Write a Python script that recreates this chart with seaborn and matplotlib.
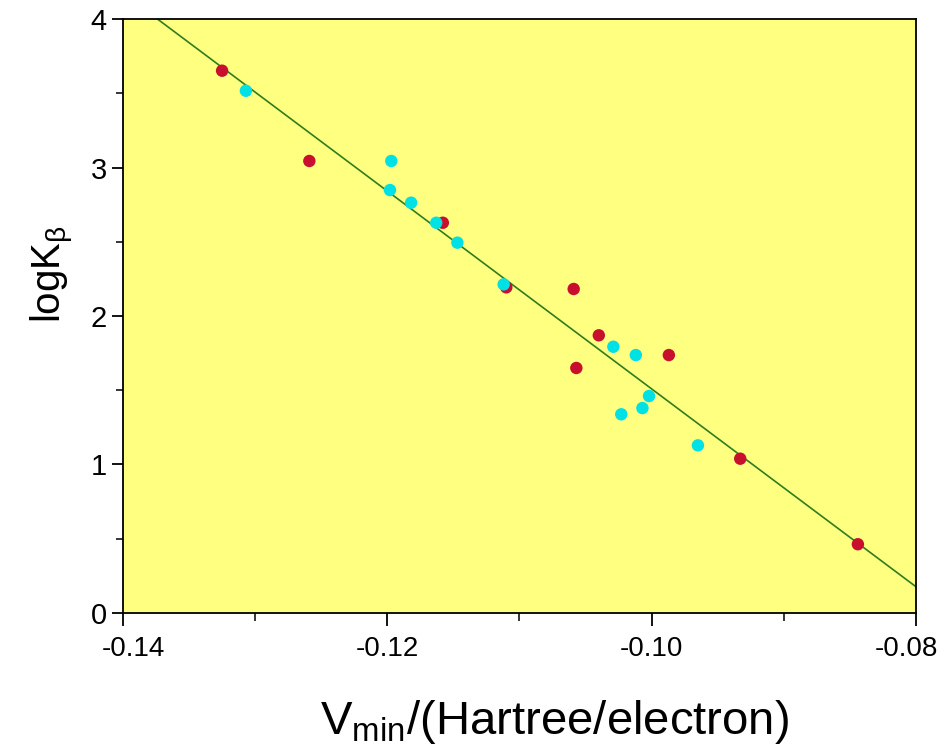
import numpy as np
import pandas as pd
import matplotlib
matplotlib.use("Agg")
import matplotlib.pyplot as plt
import matplotlib.transforms as mtransforms
import seaborn as sns
from matplotlib.ticker import MultipleLocator, FormatStrFormatter

# Minimum electrostatic potential vs. hydrogen-bond basicity
vmin_red = [-0.1325, -0.1259, -0.1158, -0.1110, -0.1059, -0.1040, -0.1057, -0.0987, -0.0933, -0.0844]
logk_red = [3.652, 3.044, 2.628, 2.193, 2.182, 1.870, 1.650, 1.737, 1.039, 0.463]

vmin_cyan = [-0.1307, -0.1197, -0.1198, -0.1182, -0.1163, -0.1147, -0.1112,
             -0.1029, -0.1012, -0.1002, -0.1007, -0.1023, -0.0965]
logk_cyan = [3.517, 3.044, 2.848, 2.763, 2.628, 2.494, 2.213,
             1.793, 1.737, 1.461, 1.380, 1.338, 1.129]

groups = ["set A", "set B"]
colors = {"set A": "#c8102e", "set B": "#00e1e6"}

df = pd.DataFrame({
    "vmin": vmin_red + vmin_cyan,
    "logk": logk_red + logk_cyan,
    "group": [groups[0]] * len(vmin_red) + [groups[1]] * len(vmin_cyan),
})

sns.set_style("ticks")
plt.rcParams["font.family"] = ["Liberation Sans", "DejaVu Sans"]
plt.rcParams["mathtext.fontset"] = "custom"
plt.rcParams["mathtext.rm"] = "Liberation Sans"
plt.rcParams["mathtext.it"] = "Liberation Sans"
plt.rcParams["text.color"] = "black"
plt.rcParams["axes.labelcolor"] = "black"

fig = plt.figure(figsize=(9.43, 7.46), dpi=100)
ax = fig.add_axes([0.1304, 0.1783, 0.9714 - 0.1304, 0.9745 - 0.1783])
ax.set_facecolor("#ffff80")
ax.set_xlim(-0.14, -0.08)
ax.set_ylim(0, 4)

# least-squares line through all points, spanning the full axis width
sns.regplot(data=df, x="vmin", y="logk", ax=ax, scatter=False, ci=None,
            truncate=False, color="#2e7d1e", line_kws={"lw": 1.2, "zorder": 2})

sns.scatterplot(data=df, x="vmin", y="logk", hue="group", palette=colors,
                s=80, edgecolor="none", legend=False, ax=ax, zorder=3)

ax.set_xlim(-0.14, -0.08)
ax.set_ylim(0, 4)
ax.xaxis.set_major_locator(MultipleLocator(0.02))
ax.xaxis.set_minor_locator(MultipleLocator(0.01))
ax.xaxis.set_major_formatter(FormatStrFormatter("%.2f"))
ax.yaxis.set_major_locator(MultipleLocator(1))
ax.yaxis.set_minor_locator(MultipleLocator(0.5))

for s in ax.spines.values():
    s.set_color("black")
    s.set_linewidth(1.3)

ax.tick_params(axis="x", which="major", direction="out", length=9.4, width=1.3,
               labelsize=20, colors="black", pad=7.5)
ax.tick_params(axis="x", which="minor", direction="out", length=5.8, width=1.3)
ax.tick_params(axis="y", which="major", direction="out", length=8, width=1.3,
               labelsize=21, colors="black", pad=3.5)
ax.tick_params(axis="y", which="minor", direction="out", length=5, width=1.3)

ax.set_xlabel(r"$\mathrm{V_{min}/(Hartree/electron)}$", fontsize=34)
ax.xaxis.set_label_coords(0.5435, -0.143)
ax.set_ylabel(r"$\mathrm{logK_{\beta}}$", fontsize=29)
ax.yaxis.set_label_coords(-0.059, 0.57)

# end tick labels are pulled inward so they stay clear of the corner labels/edge
fig.canvas.draw()
for tick in ax.xaxis.get_major_ticks():
    txt = tick.label1.get_text()
    if txt == "-0.08":
        tick.label1.set_horizontalalignment("right")
        tick.label1.set_transform(tick.label1.get_transform() +
                                  mtransforms.ScaledTranslation(0.22, 0, fig.dpi_scale_trans))
    elif txt == "-0.14":
        tick.label1.set_horizontalalignment("left")
        tick.label1.set_transform(tick.label1.get_transform() +
                                  mtransforms.ScaledTranslation(-0.21, 0, fig.dpi_scale_trans))

fig.savefig("out.png", dpi=100)
